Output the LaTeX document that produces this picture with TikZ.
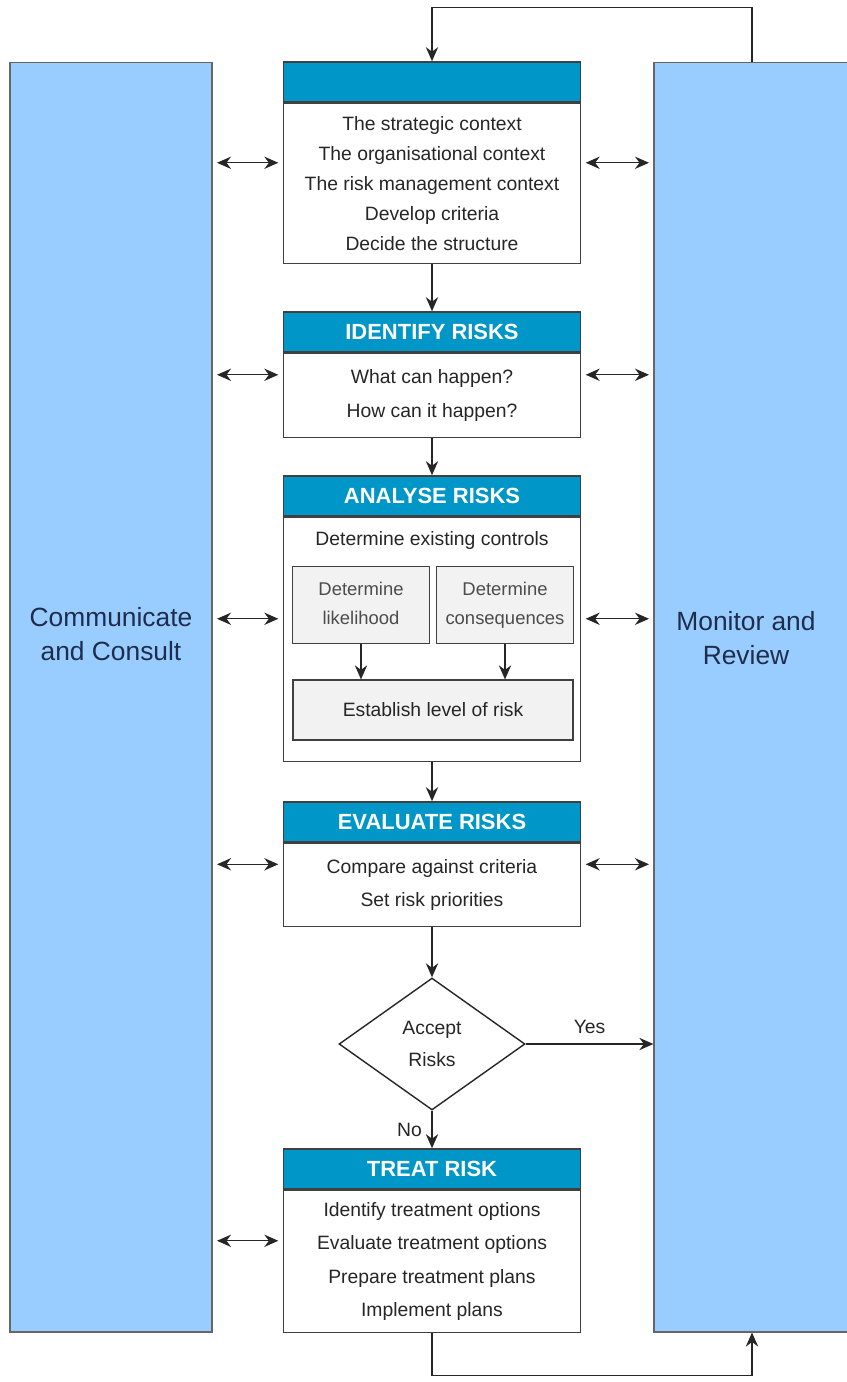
\documentclass[tikz,border=0pt]{standalone}
\usepackage{fontspec}
\setmainfont{Liberation Sans}
\usetikzlibrary{positioning,shapes.geometric,arrows.meta,calc}
\definecolor{colblue}{RGB}{153,204,255}
\definecolor{headblue}{RGB}{0,150,200}
\definecolor{coltext}{RGB}{30,45,75}

\begin{document}
\begin{tikzpicture}[
        x=0.02cm, y=-0.02cm,
        >={Stealth[length=8pt,width=7pt]},
        column/.style={draw=black!60, line width=0.7pt, fill=colblue, minimum height=25.4cm, inner sep=0pt},
        coltxt/.style={align=center, text=coltext, font=\fontsize{15}{19.5}\selectfont},
        head/.style={draw=black!75, line width=0.9pt, fill=headblue, text=white, minimum width=5.94cm, minimum height=0.8cm, inner sep=0pt, font=\bfseries\fontsize{12.5}{15}\selectfont},
        body/.style={draw=black!75, line width=0.9pt, fill=white, minimum width=5.94cm, inner sep=0pt, align=center, text=black!85, font=\fontsize{11}{19}\selectfont},
        sub/.style={draw=black!75, line width=0.7pt, fill=black!5, inner sep=0pt, align=center, text=black!70, font=\fontsize{10.5}{16.5}\selectfont},
        lab/.style={font=\fontsize{11}{19}\selectfont, text=black!85},
        link/.style={->, line width=0.8pt, black!85},
        dbl/.style={<->, line width=0.8pt, black!85, shorten <=2.5pt, shorten >=2.5pt}
    ]
        \useasboundingbox (0,0) rectangle (846,1382);

        % side columns
        \node[column, minimum width=4.04cm] (comm) at (111,697) {};
        \node[column, minimum width=3.92cm] (mon) at (752,697) {};
        \node[coltxt] (commtxt) at (111,634) {Communicate\\and Consult};
        \node[coltxt] (montxt) at (746,638) {Monitor and\\Review};

        % establish the context
        \node[head] (ctxh) at (432,82) {};
        \node[body, minimum height=3.2cm, below=0pt of ctxh, font=\fontsize{11}{17}\selectfont] (ctxb) {The strategic context\\The organisational context\\The risk management context\\Develop criteria\\Decide the structure};

        % identify
        \node[head] (idh) at (432,332) {IDENTIFY RISKS};
        \node[body, minimum height=1.68cm, below=0pt of idh] (idb) {What can happen?\\How can it happen?};

        % analyse
        \node[head] (anh) at (432,496) {ANALYSE RISKS};
        \node[body, minimum height=4.88cm, below=0pt of anh] (anb) {};
        \node[lab] (ctrl) at (432,540) {Determine existing controls};
        \node[sub, minimum width=2.74cm, minimum height=1.54cm] (lik) at (361,605) {Determine\\likelihood\vphantom{q}};
        \node[sub, minimum width=2.74cm, minimum height=1.54cm] (cons) at (505,605) {Determine\\consequences};
        \node[sub, minimum width=5.6cm, minimum height=1.2cm, font=\fontsize{11}{17}\selectfont, text=black!85] (lvl) at (433,710) {Establish level of risk};
        \draw[link, line width=0.6pt] (lik.south) -- (lik.south |- lvl.north);
        \draw[link, line width=0.6pt] (cons.south) -- (cons.south |- lvl.north);

        % evaluate
        \node[head] (evh) at (432,822) {EVALUATE RISKS};
        \node[body, minimum height=1.66cm, below=0pt of evh] (evb) {Compare against criteria\\Set risk priorities};

        % decision
        \node[diamond, draw=black!85, line width=0.8pt, aspect=1.41, minimum width=3.72cm, minimum height=2.64cm, inner sep=0pt, align=center, font=\fontsize{11}{18.7}\selectfont, text=black!85] (acc) at (432,1044) {Accept\\Risks};

        % treat
        \node[head] (trh) at (432,1169) {TREAT RISK};
        \node[body, minimum height=2.84cm, below=0pt of trh] (trb) {Identify treatment options\\Evaluate treatment options\\Prepare treatment plans\\Implement plans};

        % main flow
        \draw[link] (ctxb.south) -- (idh.north);
        \draw[link] (idb.south) -- (anh.north);
        \draw[link] (anb.south) -- (evh.north);
        \draw[link] (evb.south) -- (acc.north);
        \draw[link] (acc.south) -- node[lab, left, xshift=-2pt] {No} (trh.north);
        \draw[link] (acc.east) -- node[lab, above, yshift=2pt] {Yes} (acc.east -| mon.west);

        % feedback loops
        \draw[link] (mon.north) -- ++(0,-54) -| (ctxh.north);
        \draw[link] (trb.south) -- ++(0,42) -| (mon.south);

        % links to the side columns
        \foreach \h/\b in {ctxh/ctxb, idh/idb, anh/anb, evh/evb} {
            \coordinate (m) at ($(\h.north)!0.5!(\b.south)$);
            \draw[dbl] (comm.east |- m) -- (\b.west |- m);
            \draw[dbl] (\b.east |- m) -- (mon.west |- m);
        }
        \coordinate (mt) at ($(trh.north)!0.5!(trb.south)$);
        \draw[dbl] (comm.east |- mt) -- (trb.west |- mt);

    \end{tikzpicture}
\end{document}
